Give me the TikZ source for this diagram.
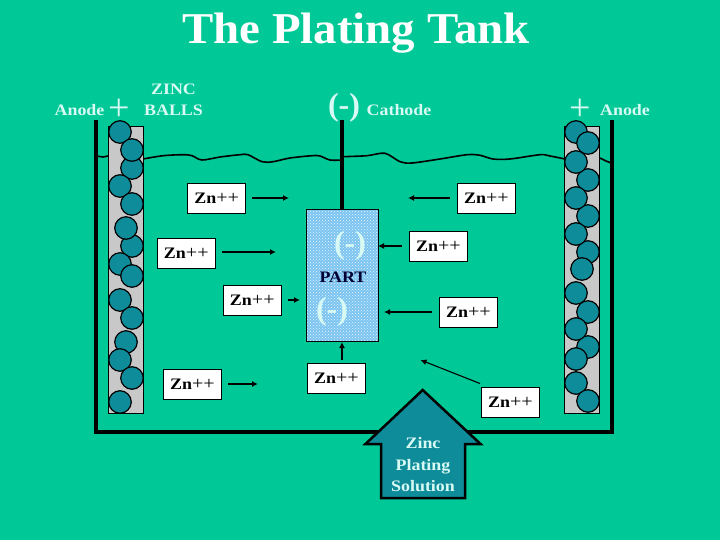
\documentclass[tikz,border=0pt]{standalone}
\usepackage{fontspec}
\setmainfont{Liberation Serif}
\newfontfamily\widef[FakeStretch=1.12]{Liberation Serif}
\newfontfamily\titlef[FakeStretch=1.065]{Liberation Serif}
\usetikzlibrary{patterns,arrows.meta}
\definecolor{bgc}{HTML}{00C896}
\definecolor{ballc}{HTML}{0E8C9A}
\definecolor{basket}{HTML}{C8C8C8}
\definecolor{partc}{HTML}{7CC4F0}
\definecolor{lightt}{HTML}{D8FAF4}
\newcommand{\znion}{{\bfseries Zn}{\mdseries\fontsize{18}{16}\selectfont ++}}
\tikzset{
  x=1pt,y=-1pt,
  ball/.style={circle,draw=black,line width=1.2pt,fill=ballc,minimum size=22.5pt,inner sep=0pt},
  ion/.style={draw=black,line width=0.6pt,fill=white,minimum width=58pt,minimum height=30pt,inner sep=0pt,font=\widef\fontsize{16}{16}\selectfont},
  lbl/.style={text=lightt,inner sep=0pt,font=\widef\fontsize{16}{18}\selectfont\bfseries,align=center},
  plusl/.style={text=lightt,inner sep=0pt,font=\fontsize{38}{38}\selectfont},
  big/.style={text=lightt,inner sep=0pt,font=\fontsize{32}{32}\selectfont\bfseries},
  flow/.style={-{Latex[length=6pt,width=6pt]},line width=1.5pt,black},
  heavy/.style={line width=4pt,black},
  waterline/.style={line width=1.6pt,black},
}
\begin{document}
\begin{tikzpicture}
\useasboundingbox (0,0) rectangle (720,540);
\fill[bgc] (0,0) rectangle (720,540);
\node[text=white,inner sep=0pt,font=\titlef\fontsize{44}{44}\selectfont\bfseries] (title) at (356,33) {The Plating Tank};
% tank
\coordinate (tl) at (95.5,120); \coordinate (bl) at (95.5,431.5);
\coordinate (br) at (611.5,431.5); \coordinate (tr) at (611.5,120);
\draw[heavy,line join=miter] (tl) -- (bl) -- (br) -- (tr);
% water
\draw[waterline] (96,156) -- (103,157) -- (108,156);
\draw[waterline] plot[smooth,tension=0.5] coordinates {(143,159) (163,155.7) (183,154.7) (192,155.7) (202,160) (220,157) (240,154.7) (248,154.7) (262,161.7) (273,161.7) (290,158) (312,155.7) (320,156) (330,160) (342,160)};
\draw[waterline] plot[smooth,tension=0.5] coordinates {(343,156.7) (367,155.7) (385,153.3) (400,161.7) (412,163) (440,159) (467,154.7) (480,155.3) (493,159) (510,159) (540,154.7) (550,156) (565,159)};
\draw[waterline] (600,158) -- (606,161) -- (611,163);
% baskets
\draw[draw=black,line width=0.6pt,fill=basket] (108.5,126) rectangle (143.5,413);
\draw[draw=black,line width=0.6pt,fill=basket] (564.5,126) rectangle (599.5,413);
% left balls
\foreach \n/\x/\y in {a/120/132,c/132/168,b/132/150,d/120/186,e/132/204,g/132/246,f/126/228,h/120/264,i/132/276,j/120/300,k/132/318,l/126/342,m/120/360,n/132/378,o/120/402}
  \node[ball] (L\n) at (\x,\y) {};
% right balls
\foreach \n/\x/\y in {a/576/132,b/588/143,d/588/180,c/576/162,f/588/216,e/576/198,h/588/252,g/576/234,i/582/269,j/576/293,k/588/312,m/588/347,l/576/329,n/576/359,o/576/383,p/588/401}
  \node[ball] (R\n) at (\x,\y) {};
% rod and part
\coordinate (rodtop) at (342,120);
\node[fill=partc,minimum width=72pt,minimum height=131pt,inner sep=0pt] (part) at (342,275.5) {};
\fill[pattern=crosshatch dots,pattern color=white!85!partc] (part.north west) rectangle (part.south east);
\draw[line width=0.6pt,black] (part.north west) rectangle (part.south east);
\draw[heavy] (rodtop) -- (part.north);
\node[big] (m1) at (350,246) {(-)};
\node[inner sep=0pt,text=black!80!blue,font=\widef\fontsize{16}{16}\selectfont\bfseries] (partl) at (343,277) {PART};
\node[big] (m2) at (332,312) {(-)};
% labels
\node[lbl] (an1) at (79.5,110) {Anode};
\node[plusl] (p1) at (119,110) {+};
\node[lbl,font=\widef\fontsize{16}{21}\selectfont\bfseries] (zb) at (173.5,99.5) {ZINC\\BALLS};
\node[big] (cm) at (344,108) {(-)};
\node[lbl] (cat) at (399,110) {Cathode};
\node[plusl] (p2) at (580,110) {+};
\node[lbl] (an2) at (625,110) {Anode};
% ions
\node[ion] (z1) at (216.7,198.3) {\znion};
\node[ion] (z2) at (486.5,198.3) {\znion};
\node[ion] (z3) at (186.3,253) {\znion};
\node[ion] (z4) at (438.5,246.3) {\znion};
\node[ion] (z5) at (252.3,300) {\znion};
\node[ion] (z6) at (468.5,312.3) {\znion};
\node[ion] (z7) at (192.5,384.3) {\znion};
\node[ion] (z8) at (336.5,378.3) {\znion};
\node[ion] (z9) at (510.5,402.3) {\znion};
% arrows
\coordinate (a1s) at (252,198); \coordinate (a1) at (289,198);
\coordinate (a2s) at (450,198); \coordinate (a2) at (408,198);
\coordinate (a3s) at (222,252); \coordinate (a3) at (276,252);
\coordinate (a4s) at (402,246); \coordinate (a4) at (378,246);
\coordinate (a5s) at (288,300); \coordinate (a5) at (300,300);
\coordinate (a6s) at (432,312); \coordinate (a6) at (384,312);
\coordinate (a7s) at (228,384); \coordinate (a7) at (258,384);
\coordinate (a8s) at (342,360); \coordinate (a8) at (342,342);
\coordinate (a9s) at (480,383.5); \coordinate (a9) at (420.5,360);
\draw[flow] (a1s) -- (a1);
\draw[flow] (a2s) -- (a2);
\draw[flow] (a3s) -- (a3);
\draw[flow] (a4s) -- (a4);
\draw[flow] (a5s) -- (a5);
\draw[flow] (a6s) -- (a6);
\draw[flow] (a7s) -- (a7);
\draw[flow] (a8s) -- (a8);
\draw[flow,line width=1.1pt] (a9s) -- (a9);
% solution arrow
\coordinate (sa) at (422.7,390);
\draw[draw=black,line width=2.5pt,fill=ballc,line join=miter] (sa) -- (480.5,444) -- (465,444) -- (465,498) -- (381,498) -- (381,444) -- (365.5,444) -- cycle;
\node[lbl,font=\widef\fontsize{16}{21.5}\selectfont\bfseries] (sol) at (423,465) {Zinc\\Plating\\Solution};
\end{tikzpicture}
\end{document}
